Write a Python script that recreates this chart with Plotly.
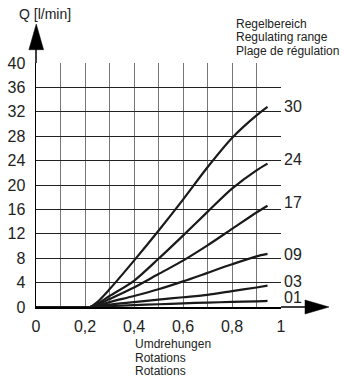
import plotly.graph_objects as go

# ---- data ----
rotations = [0.0, 0.22, 0.25, 0.3, 0.4, 0.5, 0.6, 0.7, 0.8, 0.9, 0.945]
q_30 = [0, 0, 0.8, 2.9, 7.6, 12.5, 17.6, 22.9, 27.7, 31.4, 32.8]
q_24 = [0, 0, 0.5, 1.8, 4.3, 7.9, 11.7, 15.6, 19.4, 22.4, 23.5]
q_17 = [0, 0, 0.4, 1.3, 3.2, 5.4, 7.6, 10.1, 12.8, 15.5, 16.6]
q_09 = [0, 0, 0.2, 0.8, 1.8, 2.9, 4.2, 5.6, 7.0, 8.3, 8.7]
q_03 = [0, 0, 0.1, 0.4, 0.8, 1.2, 1.6, 2.0, 2.6, 3.2, 3.5]
q_01 = [0, 0, 0.05, 0.15, 0.3, 0.45, 0.6, 0.72, 0.83, 0.93, 1.0]
curve_names = ["30", "24", "17", "09", "03", "01"]
label_y = [32.9, 24.2, 17.1, 8.6, 4.2, 1.6]

x_tickvals = [0, 0.1, 0.2, 0.3, 0.4, 0.5, 0.6, 0.7, 0.8, 0.9, 1.0]
x_ticktext = ["0", "", "0,2", "", "0,4", "", "0,6", "", "0,8", "", "1"]
y_tickvals = [0, 4, 8, 12, 16, 20, 24, 28, 32, 36, 40]

series = [q_30, q_24, q_17, q_09, q_03, q_01]

FONT = "Liberation Sans, Arial, sans-serif"
fig = go.Figure()
for name, ys in zip(curve_names, series):
    fig.add_trace(go.Scatter(x=rotations, y=ys, mode="lines", name=name,
                             line=dict(color="#1a1a1a", width=2.2, shape="spline", smoothing=0.8),
                             showlegend=False, hoverinfo="skip"))

for name, ly in zip(curve_names, label_y):
    fig.add_annotation(x=1.0, y=ly, xref="x", yref="y", text=name, showarrow=False,
                       xanchor="left", yanchor="middle", xshift=1,
                       font=dict(family=FONT, size=16, color="#222"))

# axis arrows
shapes = [
    dict(type="line", xref="paper", yref="paper", x0=0, x1=0, y0=1, y1=1.06,
         line=dict(color="black", width=1.5)),
    dict(type="path", xref="paper", yref="paper",
         path="M -0.029 1.0545 L 0.031 1.0545 L 0.001 1.160 Z",
         fillcolor="black", line=dict(color="black", width=0.5)),
    dict(type="line", xref="paper", yref="paper", x0=1, x1=1.1, y0=0, y1=0,
         line=dict(color="black", width=1.5)),
    dict(type="path", xref="paper", yref="paper",
         path="M 1.098 0.0287 L 1.098 -0.0287 L 1.196 0 Z",
         fillcolor="black", line=dict(color="black", width=0.5)),
]

fig.add_annotation(x=-0.078, y=1.2, xref="paper", yref="paper", text="Q [l/min]",
                   showarrow=False, xanchor="left", yanchor="middle",
                   font=dict(family=FONT, size=14, color="#222"))
for i, t in enumerate(["Regelbereich", "Regulating range", "Plage de régulation"]):
    fig.add_annotation(x=0.808, y=1.161 - i * 0.055, xref="paper", yref="paper", text=t,
                       showarrow=False, xanchor="left", yanchor="middle",
                       font=dict(family=FONT, size=12, color="#222"))
for i, t in enumerate(["Umdrehungen", "Rotations", "Rotations"]):
    fig.add_annotation(x=0.396, y=-0.152 - i * 0.055, xref="paper", yref="paper", text=t,
                       showarrow=False, xanchor="left", yanchor="middle",
                       font=dict(family=FONT, size=12, color="#222"))

fig.update_layout(
    width=344, height=381,
    margin=dict(l=36, r=63, t=63, b=74, autoexpand=False),
    paper_bgcolor="white", plot_bgcolor="white",
    shapes=shapes,
    xaxis=dict(range=[0, 1], tickvals=x_tickvals, ticktext=x_ticktext,
               showgrid=True, gridcolor="#777", gridwidth=1,
               showline=True, linecolor="black", linewidth=1.5,
               zeroline=False, ticks="", ticklabelstandoff=4, automargin=False,
               tickfont=dict(family=FONT, size=16, color="#222")),
    yaxis=dict(range=[0, 40], tickvals=y_tickvals,
               showgrid=True, gridcolor="#222", gridwidth=1,
               showline=True, linecolor="black", linewidth=1.5,
               zeroline=False, ticks="", ticklabelstandoff=6, automargin=False,
               tickfont=dict(family=FONT, size=16, color="#222")),
)

fig.write_html("out.html", config={"displayModeBar": False, "staticPlot": True},
               post_script="document.body.style.margin='0';")
